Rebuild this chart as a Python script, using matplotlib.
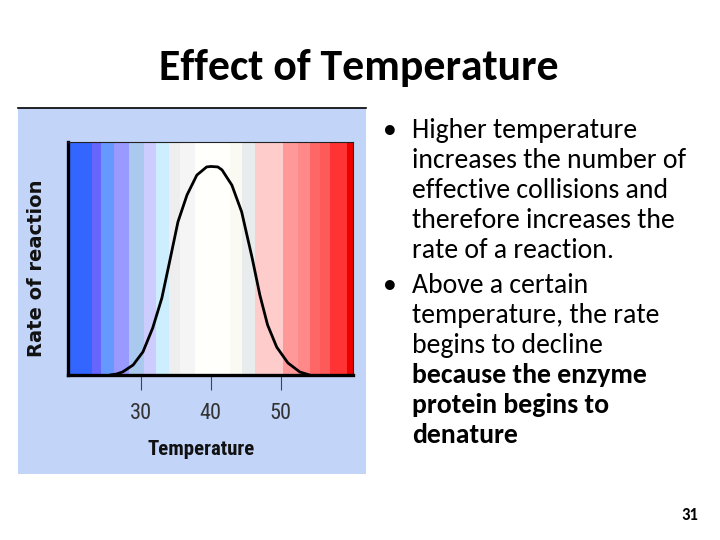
import matplotlib
matplotlib.use('Agg')
import matplotlib.pyplot as plt
from matplotlib.patches import Rectangle
from matplotlib.lines import Line2D

# ── data ──
temps = [25.6, 26.5, 27.4, 28.9, 30.3, 31.7, 33.0, 34.1, 35.3, 36.6, 38.0, 39.4,
         40.0, 41.0, 41.6, 43.0, 44.4, 45.9, 47.0, 48.1, 49.4, 51.0, 52.7, 54.1]
rates = [0.0, 0.004, 0.013, 0.043, 0.099, 0.202, 0.330, 0.485, 0.657, 0.773,
         0.858, 0.893, 0.895, 0.893, 0.880, 0.815, 0.700, 0.502, 0.343, 0.215,
         0.120, 0.052, 0.013, 0.0]

band_edges = [19.6, 23.0, 24.3, 26.1, 28.3, 30.4, 32.1, 34.0, 35.6, 37.7, 42.7,
              44.4, 46.3, 50.3, 52.4, 54.1, 55.6, 57.0, 59.4, 60.3]
band_colors = ['#3366FF', '#6666FF', '#6699FF', '#9999FF', '#A9C9EE', '#CCCCFF',
               '#CCEEFF', '#EEEEEE', '#F5F5F5', '#FFFFFB', '#FAFAF2', '#E8ECEC',
               '#FFCCCC', '#FF9999', '#FF8888', '#FF6666', '#FF5A5A', '#FF3333',
               '#EE0000']

xticks = [30, 40, 50]

title = 'Effect of Temperature'
bullet1 = ['Higher temperature', 'increases the number of',
           'effective collisions and', 'therefore increases the',
           'rate of a reaction.']
bullet2 = ['Above a certain', 'temperature, the rate', 'begins to decline']
bullet2_bold = ['because the enzyme', 'protein begins to', 'denature']
page_no = '31'

W, H = 720, 540
fig = plt.figure(figsize=(7.2, 5.4), dpi=100, facecolor='white')

def fx(px):
    return px / W

def fy(py):
    return 1 - py / H

# blue picture panel behind the chart
fig.patches.append(Rectangle((fx(18), fy(474)), fx(366) - fx(18), fy(108) - fy(474),
                             transform=fig.transFigure, facecolor='#C2D5F9',
                             edgecolor='none', zorder=-2))
fig.lines.append(Line2D([fx(18), fx(366)], [fy(108), fy(108)],
                        transform=fig.transFigure, color='black', lw=1.2,
                        zorder=-1))

ax = fig.add_axes([fx(68), fy(375), fx(353) - fx(68), fy(142) - fy(375)])
for i, c in enumerate(band_colors):
    ax.axvspan(band_edges[i], band_edges[i + 1], color=c, lw=0, zorder=0)

ax.plot(temps, rates, color='black', lw=2.0, solid_capstyle='round',
        solid_joinstyle='round', zorder=3)

narrow = ['Roboto Condensed', 'DejaVu Sans']
ax.set_xlim(band_edges[0], band_edges[-1])
ax.set_ylim(0, 1)
ax.set_yticks([])
ax.set_xticks(xticks)
ax.set_xticklabels([str(t) for t in xticks], family=narrow,
                   fontsize=16, color='#333333')
ax.tick_params(axis='x', direction='out', length=11, width=0.8,
               color='#444444', pad=9)

for s in ['left', 'bottom']:
    ax.spines[s].set_linewidth(2.4)
for s in ['top', 'right']:
    ax.spines[s].set_linewidth(0.8)
    ax.spines[s].set_color('#222222')

ax.set_xlabel('Temperature', family=narrow, fontweight='bold', fontsize=15,
              color='#111111')
ax.xaxis.set_label_coords(0.467, -0.28)
ax.set_ylabel('Rate of reaction', fontweight='bold', fontsize=14,
              color='#111111')
ax.yaxis.label.set_va('center')
ax.yaxis.set_label_coords(-0.112, 0.459)

# slide text
slide_font = ['Carlito', 'DejaVu Sans']
fig.text(fx(359), fy(80), title, ha='center', va='baseline',
         family=slide_font, fontweight='bold', fontsize=31.5)

fs = 20
y = 138
fig.text(fx(383), fy(y), '•', ha='left', va='baseline', family=slide_font, fontsize=fs)
for line in bullet1:
    fig.text(fx(412), fy(y), line, ha='left', va='baseline',
             family=slide_font, fontsize=fs)
    y += 30
y = 293
fig.text(fx(383), fy(y), '•', ha='left', va='baseline', family=slide_font, fontsize=fs)
for line in bullet2:
    fig.text(fx(412), fy(y), line, ha='left', va='baseline',
             family=slide_font, fontsize=fs)
    y += 30
for line in bullet2_bold:
    fig.text(fx(412), fy(y), line, ha='left', va='baseline',
             family=slide_font, fontsize=fs, fontweight='bold')
    y += 30

fig.text(fx(698), fy(520), page_no, ha='right', va='baseline',
         family=slide_font, fontweight='bold', fontsize=12)

fig.savefig('out.png', dpi=100, facecolor='white')
